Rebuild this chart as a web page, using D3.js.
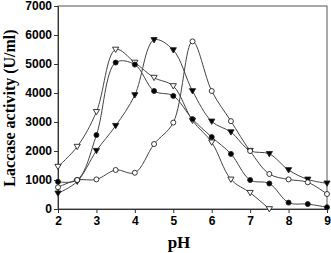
<!DOCTYPE html>
<html><head><meta charset="utf-8">
<script src="https://cdn.jsdelivr.net/npm/d3@7"></script>
<style>body{margin:0;background:#fff}svg{display:block}</style>
</head><body>
<script>
const pH = [2,2.5,3,3.5,4,4.5,5,5.5,6,6.5,7,7.5,8,8.5,9];
const openTriangle = [1460,2150,3350,5500,5050,4530,4240,3050,2300,1020,560,0];
const filledCircle = [940,1000,2550,5050,4980,4070,3900,3100,2480,1900,1000,880,220,170,60];
const filledTriangle = [540,950,2010,2870,3930,5830,5480,4070,3020,2650,2010,1900,1345,1020,885];
const openCircle = [750,1000,1020,1345,1250,2240,2980,5780,4070,3030,2000,1207,1020,920,517];
const xTicks = [2,3,4,5,6,7,8,9];
const yTicks = [0,1000,2000,3000,4000,5000,6000,7000];

const W=331,H=253, m={l:58,r:4,t:6,b:44};
const svg=d3.select("body").append("svg").attr("width",W).attr("height",H);
const x=d3.scaleLinear().domain([2,9]).range([m.l,W-m.r]);
const y=d3.scaleLinear().domain([0,7000]).range([H-m.b,m.t]);
const ink="#333";

svg.append("rect").attr("x",m.l).attr("y",m.t).attr("width",W-m.r-m.l).attr("height",H-m.b-m.t)
  .attr("fill","none").attr("stroke","#555").attr("stroke-width",1);

const xa=svg.append("g").attr("transform",`translate(0,${H-m.b})`)
  .call(d3.axisBottom(x).tickValues(xTicks).tickFormat(d3.format("d")).tickSizeOuter(0).tickSize(4).tickPadding(3));
const ya=svg.append("g").attr("transform",`translate(${m.l},0)`)
  .call(d3.axisLeft(y).tickValues(yTicks).tickFormat(d3.format("d")).tickSizeOuter(0).tickSize(4).tickPadding(2));
[xa,ya].forEach(a=>{
  a.selectAll("path").attr("stroke",ink);
  a.selectAll("line").attr("stroke",ink);
  a.selectAll("text").attr("fill","#000").style("font-family","'Liberation Sans',Arial,sans-serif")
   .style("font-size","12px").style("font-weight","bold");
});

const series=[
  {v:openTriangle, sym:"tri", fill:"#fff"},
  {v:filledCircle, sym:"circ", fill:"#000"},
  {v:filledTriangle, sym:"tri", fill:"#000"},
  {v:openCircle, sym:"circ", fill:"#fff"}
];
const line=d3.line().x(d=>x(d[0])).y(d=>y(d[1])).curve(d3.curveCatmullRom.alpha(0.5));
series.forEach(s=>{
  const pts=s.v.map((v,i)=>[pH[i],v]);
  svg.append("path").attr("d",line(pts)).attr("fill","none").attr("stroke","#444").attr("stroke-width",1);
});
series.forEach(s=>{
  const pts=s.v.map((v,i)=>[pH[i],v]);
  const g=svg.append("g");
  pts.forEach(p=>{
    const cx=x(p[0]), cy=y(p[1]);
    if(s.sym==="circ"){
      g.append("circle").attr("cx",cx).attr("cy",cy).attr("r",2.5)
       .attr("fill",s.fill).attr("stroke","#222").attr("stroke-width",0.9);
    } else {
      const r=3.1;
      g.append("path").attr("d",`M${cx-r},${cy-r*0.75}L${cx+r},${cy-r*0.75}L${cx},${cy+r*0.95}Z`)
       .attr("fill",s.fill).attr("stroke","#222").attr("stroke-width",0.9);
    }
  });
});

svg.append("text").attr("x",179).attr("y",248).attr("text-anchor","middle")
  .style("font-family","'Liberation Serif','Times New Roman',serif").style("font-size","17px").style("font-weight","bold")
  .attr("fill","#000").text("pH");
svg.append("text").attr("transform","translate(15,108) rotate(-90)").attr("text-anchor","middle")
  .style("font-family","'Liberation Serif','Times New Roman',serif").style("font-size","16px").style("font-weight","bold")
  .attr("fill","#000").text("Laccase activity (U/ml)");
</script>
</body></html>
